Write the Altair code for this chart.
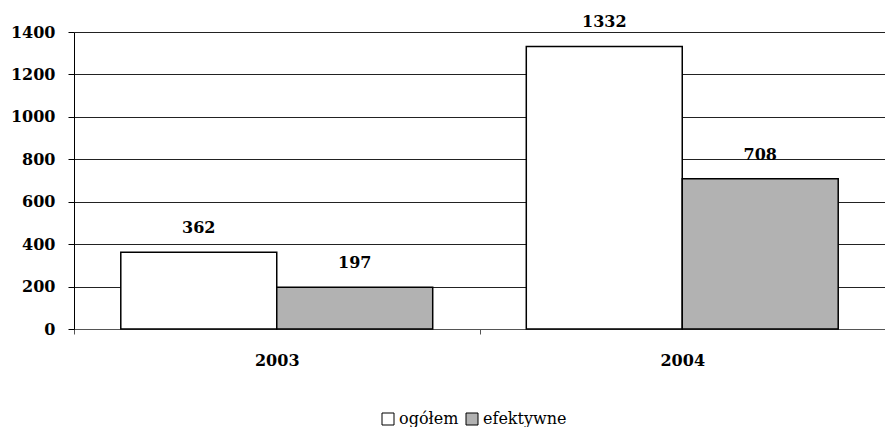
import altair as alt
import pandas as pd

years = ["2003", "2004"]
series = ["ogółem", "efektywne"]
ogolem = [362, 1332]
efektywne = [197, 708]
colors = ["#ffffff", "#b2b2b2"]

rows = []
for i, y in enumerate(years):
    rows.append({"rok": y, "seria": series[0], "wartosc": ogolem[i]})
    rows.append({"rok": y, "seria": series[1], "wartosc": efektywne[i]})
df = pd.DataFrame(rows)

FONT = "DejaVu Serif"

x = alt.X("rok:N", title=None, sort=years,
          scale=alt.Scale(paddingInner=0, paddingOuter=0),
          axis=alt.Axis(labelAngle=0, tickBand="extent", tickSize=5, labelPadding=18,
                        labelFont=FONT, labelFontSize=16, labelFontWeight="bold",
                        labelColor="black", domainColor="#555", tickColor="#555",
                        grid=False))
xo = alt.XOffset("seria:N", sort=series,
                 scale=alt.Scale(domain=series, paddingInner=0, paddingOuter=0.3))
y = alt.Y("wartosc:Q", title=None,
          scale=alt.Scale(domain=[0, 1400], nice=False),
          axis=alt.Axis(values=[0, 200, 400, 600, 800, 1000, 1200, 1400], format="d",
                        tickSize=6, labelPadding=13, labelFont=FONT, labelFontSize=16,
                        labelFontWeight="bold", labelColor="black",
                        domainColor="black", tickColor="black",
                        gridColor="#222", gridWidth=1))

bars = alt.Chart(df).mark_bar(stroke="black", strokeWidth=1.5).encode(
    x=x, xOffset=xo, y=y,
    fill=alt.Fill("seria:N", sort=series,
                  scale=alt.Scale(domain=series, range=colors),
                  legend=alt.Legend(title=None, orient="none", direction="horizontal",
                                    legendX=306, legendY=379, symbolType="square",
                                    symbolSize=144, symbolStrokeColor="black",
                                    symbolStrokeWidth=1, labelFont=FONT,
                                    labelFontSize=16, labelColor="black",
                                    columnPadding=5, labelOffset=3, padding=0)),
)

labels = alt.Chart(df).mark_text(font=FONT, fontSize=16, fontWeight="bold",
                                 baseline="alphabetic", dy=-19, color="black").encode(
    x=x, xOffset=xo, y=y, text=alt.Text("wartosc:Q"),
)

chart = alt.layer(bars, labels).properties(
    width=811, height=297,
    autosize=alt.AutoSizeParams(type="none"),
    padding={"left": 66, "top": 24, "right": 0, "bottom": 98},
).configure_view(stroke=None).configure_axis(domainWidth=1, tickWidth=1)

chart.save("out.html", embed_options={"renderer": "svg", "actions": False})
